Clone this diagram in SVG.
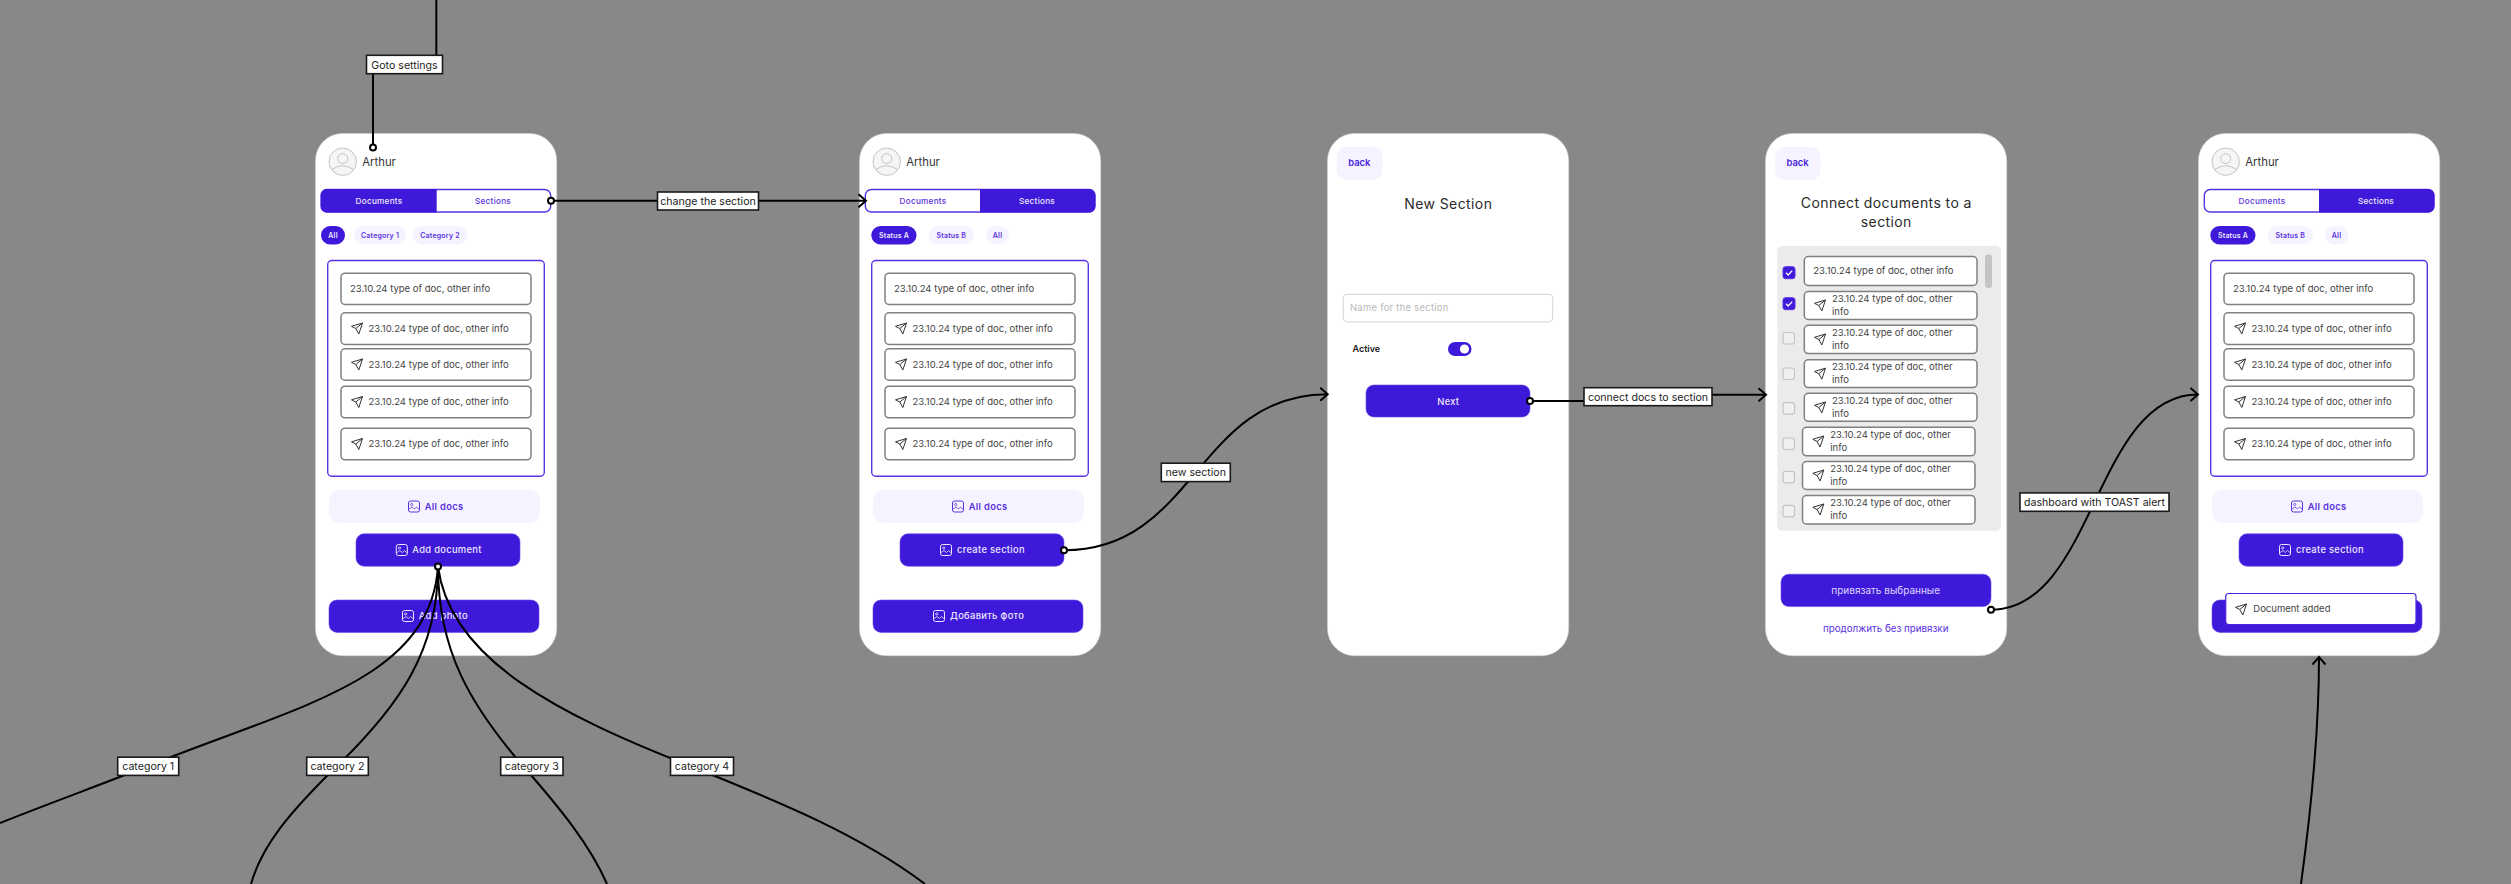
<svg xmlns="http://www.w3.org/2000/svg" width="2511" height="884" viewBox="0 0 2511 884">
<style>
text{font-family:"Inter","Liberation Sans",sans-serif}
.phone{fill:#fff;stroke:#d4d4d4;stroke-width:.6}
.pr{fill:#3f19d9}
.pb{fill:#3f19d9;stroke:#6a4ae6;stroke-width:.6}
.sf{fill:#f5f3ff}
.ol{fill:#fff;stroke:#5a32e0;stroke-width:1.4}
.row{fill:#fff;stroke:#808080;stroke-width:1.5}
.t{font-size:9.5px;fill:#444}
.tw{font-size:8.2px;fill:#ece8ff;font-weight:500;text-anchor:middle;letter-spacing:.25px}
.tp{font-size:8.2px;fill:#5a32e0;font-weight:500;text-anchor:middle;letter-spacing:.25px}
.cw{font-size:7px;fill:#ece8ff;font-weight:600;text-anchor:middle;letter-spacing:.2px}
.cp{font-size:7px;fill:#5a32e0;font-weight:600;text-anchor:middle;letter-spacing:.2px}
.bw{font-size:9.4px;fill:#ece8ff;font-weight:500;letter-spacing:.3px}
.bp{font-size:9.4px;fill:#5a32e0;font-weight:600;letter-spacing:.3px}
.name{font-size:11.3px;fill:#333}
.title{font-size:14px;fill:#2b2b2b;text-anchor:middle;letter-spacing:.4px}
.back{font-size:9.4px;fill:#4a22dd;font-weight:600}
.cb{fill:#f0f0f0;stroke:#c4c4c4;stroke-width:1.2}
.cbon{fill:#3f19d9;stroke:#5a32e0;stroke-width:1}
.ck{fill:none;stroke:#fff;stroke-width:1.3}
.ic{fill:none;stroke:#333;stroke-width:1}
.conn{fill:none;stroke:#000;stroke-width:2}
.dot{fill:#fff;stroke:#000;stroke-width:2}
.lb{fill:#fff;stroke:#1a1a1a;stroke-width:1.6}
.lt{font-size:10.6px;fill:#222;text-anchor:middle}
</style>
<defs>
<marker id="arr" markerUnits="userSpaceOnUse" markerWidth="12" markerHeight="16" refX="9" refY="8" orient="auto"><path d="M1.5,1.5 L9,8 L1.5,14.5" fill="none" stroke="#000" stroke-width="2"/></marker>
<g id="plane"><path class="ic" d="M5.5,-5.5 L-5.5,-2.2 L-1.2,0 L1.8,5.5 Z M5.5,-5.5 L-1.2,0"/></g>
<g id="pic"><rect x="-5.5" y="-5.5" width="11" height="11" rx="2" fill="none" stroke="currentColor"/><circle cx="-2.3" cy="-2" r="1.1" fill="none" stroke="currentColor" stroke-width=".8"/><path d="M-5.5,3 L-2,0.5 L0.5,2.5 L2.5,0.5 L5.5,3" fill="none" stroke="currentColor" stroke-width=".8"/></g>
<g id="avatar"><circle r="13.7" fill="#f5f5f5" stroke="#c4c4c4" stroke-width="1"/><circle cy="-3" r="5" fill="none" stroke="#c4c4c4" stroke-width="1"/><path d="M-11,8 Q0,0 11,8" fill="none" stroke="#c4c4c4" stroke-width="1"/></g>
</defs>
<rect width="2511" height="884" fill="#888888"/>

<g id="phone-documents">
<rect class="phone" x="315.5" y="133.5" width="241.2" height="522.2" rx="27"/>
<use href="#avatar" x="342.7" y="161.7"/>
<text class="name" x="362.3" y="166">Arthur</text>
<rect class="ol" x="321" y="189.5" width="229.7" height="22.5" rx="6"/>
<path class="pr" d="M327,189 H436.7 V212.5 H327 a6,6 0 0 1 -6,-6 V195 a6,6 0 0 1 6,-6Z"/>
<text class="tw" x="379" y="204">Documents</text><text class="tp" x="493" y="204">Sections</text>
<rect class="pr" x="321" y="226" width="24" height="18.5" rx="9.2"/><text class="cw" x="333" y="238">All</text>
<rect class="sf" x="354" y="226" width="52" height="18.5" rx="9.2"/><text class="cp" x="380" y="238">Category 1</text>
<rect class="sf" x="413" y="226" width="54" height="18.5" rx="9.2"/><text class="cp" x="440" y="238">Category 2</text>
<rect class="ol" x="327.7" y="260.5" width="216.6" height="215.8" rx="4"/>
<rect class="row" x="341" y="273.2" width="190" height="31.2" rx="4"/><text class="t" x="350" y="292">23.10.24 type of doc, other info</text>
<rect class="row" x="341" y="312.8" width="190" height="31.6" rx="4"/><use href="#plane" x="357" y="328.5"/><text class="t" x="368.5" y="332">23.10.24 type of doc, other info</text>
<rect class="row" x="341" y="348.8" width="190" height="31.4" rx="4"/><use href="#plane" x="357" y="364.5"/><text class="t" x="368.5" y="367.8">23.10.24 type of doc, other info</text>
<rect class="row" x="341" y="386.2" width="190" height="31.6" rx="4"/><use href="#plane" x="357" y="402"/><text class="t" x="368.5" y="405.3">23.10.24 type of doc, other info</text>
<rect class="row" x="341" y="428.2" width="190" height="31.6" rx="4"/><use href="#plane" x="357" y="444"/><text class="t" x="368.5" y="447.3">23.10.24 type of doc, other info</text>
<rect class="sf" x="329" y="490" width="211" height="33" rx="10"/><use href="#pic" x="414" y="506.5" color="#5a32e0"/><text class="bp" x="424.7" y="509.8">All docs</text>
<rect class="pb" x="356" y="533.8" width="164" height="32.4" rx="8"/><use href="#pic" x="401.8" y="550" color="#ece8ff"/><text class="bw" x="412.3" y="553.3">Add document</text>
<rect class="pb" x="329" y="600" width="210" height="32.4" rx="8"/><use href="#pic" x="408" y="616" color="#ece8ff"/><text class="bw" x="418.7" y="619.3">Add photo</text>
</g>

<g id="phone-sections" transform="translate(544,0)">
<rect class="phone" x="315.5" y="133.5" width="241.2" height="522.2" rx="27"/>
<use href="#avatar" x="342.7" y="161.7"/>
<text class="name" x="362.3" y="166">Arthur</text>
<rect class="ol" x="321.3" y="189.5" width="229.7" height="22.5" rx="6"/>
<path class="pr" d="M436,189 H545.3 a6,6 0 0 1 6,6 V206.5 a6,6 0 0 1 -6,6 H436Z"/>
<text class="tp" x="379" y="204">Documents</text><text class="tw" x="493" y="204">Sections</text>
<rect class="pr" x="327.3" y="226" width="45.2" height="18.5" rx="9.2"/><text class="cw" x="350" y="238">Status A</text>
<rect class="sf" x="384.7" y="226" width="45.3" height="18.5" rx="9.2"/><text class="cp" x="407.3" y="238">Status B</text>
<rect class="sf" x="442" y="226" width="23" height="18.5" rx="9.2"/><text class="cp" x="453.5" y="238">All</text>
<rect class="ol" x="327.7" y="260.5" width="216.6" height="215.8" rx="4"/>
<rect class="row" x="341" y="273.2" width="190" height="31.2" rx="4"/><text class="t" x="350" y="292">23.10.24 type of doc, other info</text>
<rect class="row" x="341" y="312.8" width="190" height="31.6" rx="4"/><use href="#plane" x="357" y="328.5"/><text class="t" x="368.5" y="332">23.10.24 type of doc, other info</text>
<rect class="row" x="341" y="348.8" width="190" height="31.4" rx="4"/><use href="#plane" x="357" y="364.5"/><text class="t" x="368.5" y="367.8">23.10.24 type of doc, other info</text>
<rect class="row" x="341" y="386.2" width="190" height="31.6" rx="4"/><use href="#plane" x="357" y="402"/><text class="t" x="368.5" y="405.3">23.10.24 type of doc, other info</text>
<rect class="row" x="341" y="428.2" width="190" height="31.6" rx="4"/><use href="#plane" x="357" y="444"/><text class="t" x="368.5" y="447.3">23.10.24 type of doc, other info</text>
<rect class="sf" x="329" y="490" width="211" height="33" rx="10"/><use href="#pic" x="414" y="506.5" color="#5a32e0"/><text class="bp" x="424.7" y="509.8">All docs</text>
<rect class="pb" x="356" y="533.8" width="164" height="32.4" rx="8"/><use href="#pic" x="402" y="550" color="#ece8ff"/><text class="bw" x="413" y="553.3">create section</text>
<rect class="pb" x="329" y="600" width="210" height="32.4" rx="8"/><use href="#pic" x="395" y="616" color="#ece8ff"/><text class="bw" x="406" y="619.3">Добавить фото</text>
</g>

<g id="phone-new-section">
<rect class="phone" x="1327.5" y="133.5" width="241.2" height="522.2" rx="27"/>
<rect class="sf" x="1336.7" y="147" width="46" height="33" rx="10"/><text class="back" x="1348.3" y="166">back</text>
<text class="title" x="1448.3" y="209">New Section</text>
<rect x="1343.3" y="294.3" width="209.4" height="27.6" rx="4" fill="#fff" stroke="#d2d2d8"/>
<text x="1350" y="311" font-size="9.4" fill="#b8b8b8" letter-spacing=".3">Name for the section</text>
<text x="1352.5" y="351.5" font-size="9" font-weight="600" fill="#222">Active</text>
<rect class="pr" x="1448" y="342" width="23.5" height="14" rx="7"/><circle cx="1464.5" cy="349" r="4.6" fill="#fff"/>
<rect class="pb" x="1366" y="385" width="164" height="32" rx="8"/><text class="tw" x="1448.3" y="404.5" style="font-size:9.4px">Next</text>
</g>

<g id="phone-connect-documents">
<rect class="phone" x="1765.5" y="133.5" width="241.2" height="522.2" rx="27"/>
<rect class="sf" x="1775" y="147" width="45.7" height="33" rx="10"/><text class="back" x="1786.5" y="166">back</text>
<text class="title" x="1886.3" y="208">Connect documents to a</text>
<text class="title" x="1886.3" y="227">section</text>
<rect x="1777.3" y="246" width="223.7" height="284.7" rx="5" fill="#ebebeb"/>
<rect x="1985" y="254.5" width="7" height="33.5" rx="3" fill="#c4c4c4"/>
<rect class="cbon" x="1783" y="266.7" width="12" height="12" rx="2.5"/><path class="ck" d="M1786,272.8 L1788.2,275 L1792.2,270.6"/>
<rect class="cbon" x="1783" y="297.7" width="12" height="12" rx="2.5"/><path class="ck" d="M1786,303.8 L1788.2,306 L1792.2,301.6"/>
<rect class="cb" x="1783" y="332.5" width="11.5" height="11.5" rx="2.5"/>
<rect class="cb" x="1783" y="368" width="11.5" height="11.5" rx="2.5"/>
<rect class="cb" x="1783" y="402.7" width="11.5" height="11.5" rx="2.5"/>
<rect class="cb" x="1783" y="438" width="11.5" height="11.5" rx="2.5"/>
<rect class="cb" x="1783" y="471.3" width="11.5" height="11.5" rx="2.5"/>
<rect class="cb" x="1783" y="505.3" width="11.5" height="11.5" rx="2.5"/>
<rect class="row" x="1804.3" y="256.5" width="172.7" height="29" rx="4"/><text class="t" x="1813.3" y="274">23.10.24 type of doc, other info</text>
<rect class="row" x="1804.3" y="291.5" width="172.7" height="28" rx="4"/><use href="#plane" x="1820" y="305.5"/><text class="t" x="1832" y="301.5">23.10.24 type of doc, other</text><text class="t" x="1832" y="315">info</text>
<rect class="row" x="1804.3" y="325.3" width="172.7" height="28.3" rx="4"/><use href="#plane" x="1820" y="339.5"/><text class="t" x="1832" y="335.5">23.10.24 type of doc, other</text><text class="t" x="1832" y="349">info</text>
<rect class="row" x="1804.3" y="359.8" width="172.7" height="27.8" rx="4"/><use href="#plane" x="1820" y="373.7"/><text class="t" x="1832" y="369.7">23.10.24 type of doc, other</text><text class="t" x="1832" y="383.2">info</text>
<rect class="row" x="1804.3" y="393.3" width="172.7" height="28" rx="4"/><use href="#plane" x="1820" y="407.5"/><text class="t" x="1832" y="403.5">23.10.24 type of doc, other</text><text class="t" x="1832" y="417">info</text>
<rect class="row" x="1802.5" y="427.3" width="172.5" height="28.5" rx="4"/><use href="#plane" x="1818.3" y="441.5"/><text class="t" x="1830.3" y="437.5">23.10.24 type of doc, other</text><text class="t" x="1830.3" y="451">info</text>
<rect class="row" x="1802.5" y="461.5" width="172.5" height="28" rx="4"/><use href="#plane" x="1818.3" y="475.5"/><text class="t" x="1830.3" y="471.5">23.10.24 type of doc, other</text><text class="t" x="1830.3" y="485">info</text>
<rect class="row" x="1802.5" y="495.5" width="172.5" height="28.5" rx="4"/><use href="#plane" x="1818.3" y="509.5"/><text class="t" x="1830.3" y="505.5">23.10.24 type of doc, other</text><text class="t" x="1830.3" y="519">info</text>
<rect class="pb" x="1781" y="574.2" width="210" height="32.4" rx="8"/><text x="1885.7" y="593.5" font-size="10" fill="#dcd6ff" text-anchor="middle">привязать выбранные</text>
<text x="1885.7" y="632" font-size="9.8" fill="#5a32e0" text-anchor="middle">продолжить без привязки</text>
</g>

<g id="phone-dashboard-toast" transform="translate(1883,0)">
<rect class="phone" x="315.5" y="133.5" width="241.2" height="522.2" rx="27"/>
<use href="#avatar" x="342.7" y="161.7"/>
<text class="name" x="362.3" y="166">Arthur</text>
<rect class="ol" x="321.3" y="189.5" width="229.7" height="22.5" rx="6"/>
<path class="pr" d="M436,189 H545.3 a6,6 0 0 1 6,6 V206.5 a6,6 0 0 1 -6,6 H436Z"/>
<text class="tp" x="379" y="204">Documents</text><text class="tw" x="493" y="204">Sections</text>
<rect class="pr" x="327.3" y="226" width="45.2" height="18.5" rx="9.2"/><text class="cw" x="350" y="238">Status A</text>
<rect class="sf" x="384.7" y="226" width="45.3" height="18.5" rx="9.2"/><text class="cp" x="407.3" y="238">Status B</text>
<rect class="sf" x="442" y="226" width="23" height="18.5" rx="9.2"/><text class="cp" x="453.5" y="238">All</text>
<rect class="ol" x="327.7" y="260.5" width="216.6" height="215.8" rx="4"/>
<rect class="row" x="341" y="273.2" width="190" height="31.2" rx="4"/><text class="t" x="350" y="292">23.10.24 type of doc, other info</text>
<rect class="row" x="341" y="312.8" width="190" height="31.6" rx="4"/><use href="#plane" x="357" y="328.5"/><text class="t" x="368.5" y="332">23.10.24 type of doc, other info</text>
<rect class="row" x="341" y="348.8" width="190" height="31.4" rx="4"/><use href="#plane" x="357" y="364.5"/><text class="t" x="368.5" y="367.8">23.10.24 type of doc, other info</text>
<rect class="row" x="341" y="386.2" width="190" height="31.6" rx="4"/><use href="#plane" x="357" y="402"/><text class="t" x="368.5" y="405.3">23.10.24 type of doc, other info</text>
<rect class="row" x="341" y="428.2" width="190" height="31.6" rx="4"/><use href="#plane" x="357" y="444"/><text class="t" x="368.5" y="447.3">23.10.24 type of doc, other info</text>
<rect class="sf" x="329" y="490" width="211" height="33" rx="10"/><use href="#pic" x="414" y="506.5" color="#5a32e0"/><text class="bp" x="424.7" y="509.8">All docs</text>
<rect class="pb" x="356" y="533.8" width="164" height="32.4" rx="8"/><use href="#pic" x="402" y="550" color="#ece8ff"/><text class="bw" x="413" y="553.3">create section</text>
<rect class="pb" x="329" y="600" width="210" height="32.4" rx="8"/>
<rect x="342.7" y="593.5" width="190.3" height="31" rx="3" fill="#fff" stroke="#4a22dd" stroke-width="1.2"/>
<use href="#plane" x="358" y="609.5"/><text class="t" x="370.3" y="612.3">Document added</text>
</g>

<g id="connectors">
<path class="conn" d="M436.3,0 V55"/>
<path class="conn" d="M373,73.7 V147.5"/>
<path class="conn" d="M551,200.7 H657"/>
<path class="conn" d="M759,200.7 H866" marker-end="url(#arr)"/>
<path class="conn" d="M1064,550.3 C1196,550.3 1196,394.3 1327.7,394.3" marker-end="url(#arr)"/>
<path class="conn" d="M1530,401 H1584"/>
<path class="conn" d="M1712,394.7 H1766" marker-end="url(#arr)"/>
<path class="conn" d="M1991,609.7 C2094.5,609.7 2094.5,394.5 2198,394.5" marker-end="url(#arr)"/>
<path class="conn" d="M2301,884 C2307,840 2319,740 2319,657" marker-end="url(#arr)"/>
<path class="conn" d="M438,566.5 C430,680 300,705 148,766 C100,785 50,803 0,823"/>
<path class="conn" d="M438,566.5 C438,650 400,705 337,766 C290,812 262,845 251,884"/>
<path class="conn" d="M438,566.5 C438,650 470,705 523,766 C560,808 590,845 607,884"/>
<path class="conn" d="M438,566.5 C450,660 560,715 690,766 C780,802 860,835 925,884"/>
<circle class="dot" cx="373" cy="147.5" r="3"/>
<circle class="dot" cx="551" cy="200.7" r="3"/>
<circle class="dot" cx="438" cy="566.5" r="3"/>
<circle class="dot" cx="1064" cy="550.3" r="3"/>
<circle class="dot" cx="1530" cy="401" r="3"/>
<circle class="dot" cx="1991" cy="609.7" r="3"/>
</g>

<g id="connector-labels">
<rect class="lb" x="366.5" y="55.3" width="76" height="18.4"/><text class="lt" x="404.5" y="68.5">Goto settings</text>
<rect class="lb" x="657.5" y="192" width="101" height="18"/><text class="lt" x="708" y="205">change the section</text>
<rect class="lb" x="1161.3" y="463.2" width="69" height="18.4"/><text class="lt" x="1195.8" y="476.3">new section</text>
<rect class="lb" x="1584" y="387.7" width="128" height="18"/><text class="lt" x="1648" y="400.7">connect docs to section</text>
<rect class="lb" x="2020" y="492.9" width="149" height="18.4"/><text class="lt" x="2094.5" y="506">dashboard with TOAST alert</text>
<rect class="lb" x="117.7" y="757.2" width="61" height="18.2"/><text class="lt" x="148.2" y="770.3">category 1</text>
<rect class="lb" x="306.7" y="757.2" width="61.6" height="18.2"/><text class="lt" x="337.5" y="770.3">category 2</text>
<rect class="lb" x="500.7" y="757.2" width="62.3" height="18.2"/><text class="lt" x="531.8" y="770.3">category 3</text>
<rect class="lb" x="670.5" y="757.2" width="63" height="18.2"/><text class="lt" x="702" y="770.3">category 4</text>
</g>
</svg>
